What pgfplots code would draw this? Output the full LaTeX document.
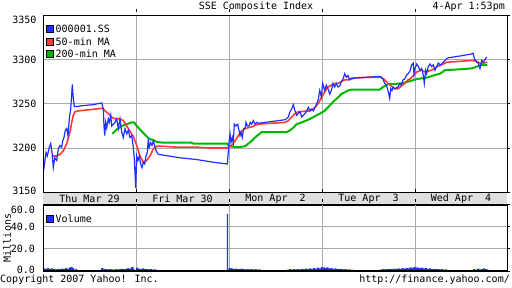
\documentclass[border=0pt]{standalone}
\usepackage{fontspec}
\setmainfont{DejaVu Sans Mono}
\usepackage{pgfplots}
\pgfplotsset{compat=1.18}
\definecolor{cBlue}{HTML}{2030FF}
\definecolor{cRed}{HTML}{FF3838}
\definecolor{cGreen}{HTML}{00B800}
\definecolor{cGrid}{HTML}{AAAAAA}
\definecolor{cBand}{HTML}{E0E0E0}
\pgfplotsset{
  yahoo/.style={
    anchor=south west, scale only axis, width=464bp,
    xmin=43, xmax=507,
    xtick={136,229,322,415}, xticklabels={},
    grid=major, grid style={cGrid, line width=1bp},
    axis line style={black, line width=1bp},
    tick label style={font=\fontsize{10bp}{12bp}\selectfont},
    ytick pos=right, yticklabel pos=left,
    tick align=outside, major tick length=3bp,
    xtick style={black, line width=1bp, yshift=3bp},
    ytick style={black, line width=1bp},
    clip=true,
  }
}
\begin{document}
\begin{tikzpicture}[font=\fontsize{10bp}{12bp}\selectfont]
\useasboundingbox (0,0) rectangle (512bp,288bp);
% date band
\fill[cBand] (43bp,83bp) rectangle (507bp,95.7bp);
\draw[black, line width=1.5bp] (43bp,83bp) -- (507bp,83bp);
\draw[black, line width=1.5bp] (43bp,95.7bp) -- (507bp,95.7bp);
\node at (89.5bp,89.3bp) {Thu Mar 29};
\node at (182.5bp,89.3bp) {Fri Mar 30};
\node at (275.5bp,89.3bp) {Mon Apr\ \ 2};
\node at (368.5bp,89.3bp) {Tue Apr\ \ 3};
\node at (461bp,89.3bp) {Wed Apr\ \ 4};

\begin{axis}[yahoo, at={(43bp,95.7bp)}, height=177bp,
  ymin=3150, ymax=3350,
  ytick={3150,3200,3250,3300,3350},
  yticklabels={\raisebox{1.5bp}[\height][\depth]{3150},3200,3250,3300,\raisebox{-4.5bp}[\height][\depth]{3350}},
]
\addplot[cGreen, line width=2bp] coordinates {
(112.3,3216)(116.7,3221)(121.7,3225)(126.7,3227)(131.7,3229)(134,3229)(136.7,3225)(140,3221)(143.3,3217)(146.7,3213)(150,3210)(153.3,3209)(156.7,3207)(163.3,3206)(191.7,3206)(193.3,3205)(227.3,3205)
(229,3202)(238.3,3201)(245,3202)(248.3,3205)(251.7,3208)(255,3212)(258.3,3215)(261.7,3218)(286.7,3218)(290,3220)(293.3,3223)(296.7,3227)(301.7,3229)(308.3,3232)(315,3236)(320,3239)(324.5,3242)(328,3246)(331.3,3250)(334.7,3254)(338,3257)(341.3,3261)(344.7,3263)(348,3265)(351.3,3266)(379.7,3266)(383,3269)(386.3,3271)(388,3272)(401.3,3273)(408,3275)(411.3,3276)(416.7,3278)(423.3,3279)(428.3,3280)(433.3,3282)(440,3284)(445,3288)(460,3289)(471.7,3290)(476.7,3292)(481.7,3294)(487.3,3294)
};
\addplot[cRed, line width=1.6bp] coordinates {
(52.7,3191)(56.7,3191)(60,3193)(63.3,3197)(66.7,3205)(70,3218)(71.7,3229)(73.3,3237)(75,3241)(78.3,3242)(86.7,3243)(95,3244)(102.7,3245)(105,3242)(108.3,3239)(111.7,3235)(115,3233)(120,3233)(123.3,3231)(126.7,3225)(130,3219)(133.3,3213)(136.7,3203)(140,3191)(143.3,3184)(146.7,3186)(150,3191)(153.3,3199)(156.7,3202)(163.3,3202)(176.7,3201)(196.7,3201)(210,3200)(227.3,3200)
(229,3201)(231.7,3203)(235,3208)(238.3,3214)(241.7,3219)(245,3222)(251.7,3224)(258.3,3227)(271.7,3228)(285,3229)(288.3,3231)(291.7,3235)(295,3239)(298.3,3241)(310,3242)(315,3246)(318,3250)(321.5,3257)(324.5,3263)(328,3269)(331.3,3271)(334.7,3273)(338,3273)(341.3,3275)(344.7,3277)(348,3277)(351.3,3279)(368,3280)(381.3,3280)(384.7,3277)(388,3273)(391.3,3270)(394.7,3267)(398,3267)(401.3,3270)(404.7,3273)(408,3277)(410,3278)(413.3,3282)(416.7,3286)(421.7,3288)(425,3286)(428.3,3287)(431.7,3288)(436.7,3292)(441.7,3294)(446.7,3297)(460,3298)(471.7,3299)(476.7,3298)(480,3296)(483.3,3296)(487.3,3297)
};
\addplot[cBlue, line width=1.2bp] coordinates {
(43,3182)(44,3178)(46,3195)(47.3,3191)(49.3,3201)(50.7,3205)(52,3195)(53.3,3178)(54.7,3189)(56.7,3186)(58.3,3199)(60,3203)(61.7,3201)(62.7,3208)(64,3212)(65.3,3220)(66.7,3222)(68,3214)(69.3,3233)(70.7,3244)(71.7,3261)(72.3,3272)(73.3,3256)(74.3,3247)(76.7,3247)(83.3,3248)(93.3,3249)(101.7,3251)(103.3,3244)(104,3225)(104.7,3214)(105.7,3229)(106.7,3223)(108.3,3233)(109.3,3229)(110.7,3237)(111.7,3225)(113.3,3227)(115,3229)(116.7,3233)(118.3,3222)(120,3233)(121.7,3218)(123.3,3212)(125,3222)(126.7,3216)(128.3,3220)(130,3212)(131.7,3214)(133.3,3201)(134.3,3188)(135.7,3155)(136.7,3191)(138,3186)(139.3,3191)(140.7,3182)(142,3178)(143.3,3184)(144.7,3182)(146,3191)(147.3,3195)(148.3,3210)(149.3,3201)(150.7,3206)(152,3203)(153.3,3208)(154.7,3203)(156,3197)(158.3,3193)(163.3,3192)(180,3189)(196.7,3187)(213.3,3184)(227.3,3182)
(229,3206)(230,3216)(231,3206)(232.3,3212)(233.3,3206)(234.3,3227)(235.7,3225)(237.7,3227)(239,3220)(240,3214)(241,3218)(242.3,3212)(243.7,3222)(245,3222)(246,3229)(247.3,3225)(249,3225)(250.3,3229)(251.7,3227)(253.3,3231)(255,3227)(256.7,3229)(258.3,3228)(265,3229)(271.7,3230)(278.3,3231)(285,3232)(288.3,3235)(290,3241)(291.7,3244)(293.3,3249)(295,3242)(296.7,3237)(298.3,3239)(300,3241)(301.7,3235)(303.3,3237)(305,3239)(306.7,3242)(308.3,3246)(310,3242)(311.7,3244)(313.3,3242)(315,3246)(316.7,3250)(318.3,3255)(319.7,3265)(321.3,3258)(322.7,3273)(324.7,3265)(326.3,3271)(328,3267)(329.7,3261)(331.3,3265)(333,3273)(334.7,3269)(336.3,3273)(338,3269)(339.7,3270)(341.3,3275)(343,3278)(344.7,3284)(346.3,3280)(348,3282)(349.7,3277)(351.3,3278)(354.7,3279)(368,3280)(379.7,3281)(383,3278)(384.7,3273)(386.3,3271)(388,3265)(389.7,3256)(390.7,3267)(392,3265)(393,3269)(394.7,3267)(398,3269)(399.7,3273)(401.3,3271)(403,3277)(404.7,3278)(406.3,3282)(408,3284)(410,3287)(411.7,3294)(413.3,3296)(414,3283)(415,3290)(416.7,3295)(418.3,3292)(420,3288)(421.7,3290)(423.3,3282)(424.3,3273)(425.7,3288)(426.7,3284)(428.3,3292)(430,3295)(431.7,3292)(433.3,3294)(435,3288)(436.7,3292)(438.3,3296)(440,3294)(441.7,3295)(443.3,3297)(446.7,3301)(448.3,3302)(460,3304)(470,3306)(473.3,3307)(474.3,3301)(476.7,3297)(478.3,3296)(480,3290)(481.7,3299)(483.3,3297)(485,3300)(486.7,3303)
};
\draw[black, line width=2bp] (rel axis cs:0,0) -- (rel axis cs:0,1);
\end{axis}

\begin{axis}[yahoo, at={(43bp,17bp)}, height=66bp,
  ymin=0, ymax=60,
  ytick={0,20,40,60},
  yticklabels={\raisebox{1.5bp}[\height][\depth]{0.0},20.0,40.0,\raisebox{-4.5bp}[\height][\depth]{60.0}},
  yticklabel style={xshift=-1.5bp},
]
\addplot[fill=cBlue, draw=none, const plot] coordinates {
(43,2.4)(45,2.0)(47,2.6)(49,2.0)(51,2.4)(53,1.8)(55,1.4)(57,2.0)(59,1.6)(61,2.2)(63,2.0)(65,2.6)(67,2.2)(69,3.2)(71,3.8)(72.5,2.6)(74,1.2)(75.5,2.0)(77,0)
(101,2.6)(103,2.0)(105,1.8)(107,1.4)(109,1.6)(111,1.4)(113,1.2)(115,1.6)(117,1.4)(119,1.8)(121,2.0)(123,1.6)(125,2.0)(127,2.6)(129,2.0)(130.5,3.4)(132,3.8)(133.5,1.6)(134.5,0)
(136,3.0)(138,2.2)(140,1.8)(142,2.4)(144,1.6)(146,1.8)(148,1.4)(150,1.6)(152,1.2)(154,1.4)(156,1.0)(157.5,0)
(226.8,52)(228.2,0)
(228.5,2.2)(230.5,2.6)(232.5,1.8)(234.5,2.2)(236.5,2.0)(238.5,1.6)(240.5,2.2)(242.5,1.8)(244.5,1.4)(246.5,1.8)(248.5,1.4)(250.5,1.6)(252.5,1.2)(254.5,1.6)(256.5,1.2)(258.5,1.4)(260.5,1.0)(262,0)
(286.7,1.2)(289,1.6)(291,1.2)(293,1.6)(295,1.4)(297,1.8)(299,1.4)(301,2.0)(303,1.6)(305,2.2)(307,1.8)(309,2.4)(311,2.0)(313,2.6)(315,2.2)(317,3.0)(319,2.4)(321,3.6)
(322.5,3.4)(324.5,2.8)(326.5,3.2)(328.5,2.4)(330.5,2.6)(332.5,2.0)(334.5,2.4)(336.5,1.8)(338.5,2.0)(340.5,1.6)(342.5,1.4)(344.5,1.6)(346.5,1.2)(348.5,1.4)(350.5,1.0)(352.5,1.2)(353.5,0)
(379.5,1.2)(381.5,1.6)(383.5,1.4)(385.5,1.8)(387.5,1.6)(389.5,2.0)(391.5,1.6)(393.5,2.2)(395.5,1.8)(397.5,2.4)(399.5,2.0)(401.5,2.6)(403.5,2.2)(405.5,2.8)(407.5,2.4)(409.5,3.2)(411.5,2.8)(413.5,3.6)
(415,3.4)(417,3.0)(419,2.6)(421,3.0)(423,2.4)(425,2.6)(427,2.0)(429,2.4)(431,1.8)(433,2.0)(435,1.6)(437,1.8)(439,1.4)(441,1.6)(443,1.2)(445,1.4)(447,0)
(473,1.8)(475,1.2)(477,2.2)(479,1.4)(481,1.8)(483,2.4)(485,1.6)(487,1.2)(488.5,0)
} \closedcycle;
\draw[black, line width=2bp] (rel axis cs:0,0) -- (rel axis cs:0,1);
\draw[black, line width=2bp] (rel axis cs:0,0) -- (rel axis cs:1,0);
\end{axis}

% legends
\draw[black, line width=0.8bp, fill=cBlue] (46bp,255.5bp) rectangle (53bp,262.5bp);
\node[anchor=west, inner sep=0.5bp] at (55bp,259bp) {000001.SS};
\draw[black, line width=0.8bp, fill=cRed] (46bp,242.5bp) rectangle (53bp,249.5bp);
\node[anchor=west, inner sep=0.5bp] at (55bp,246bp) {50-min MA};
\draw[black, line width=0.8bp, fill=cGreen] (46bp,230.5bp) rectangle (53bp,237.5bp);
\node[anchor=west, inner sep=0.5bp] at (55bp,234bp) {200-min MA};
\draw[black, line width=0.8bp, fill=cBlue] (46bp,65.5bp) rectangle (53bp,72.5bp);
\node[anchor=west, inner sep=0.5bp] at (55bp,69bp) {Volume};
\node[rotate=90, inner sep=0pt] at (7bp,50bp) {Millions};

% titles
\node at (256bp,281bp) {SSE Composite Index};
\node[anchor=east, inner sep=0pt] at (505bp,281bp) {4-Apr 1:53pm};
\node[anchor=west, inner sep=0pt] at (0bp,8bp) {Copyright 2007 Yahoo! Inc.};
\node[anchor=east, inner sep=0pt] at (510bp,8bp) {http://finance.yahoo.com/};
\end{tikzpicture}
\end{document}
